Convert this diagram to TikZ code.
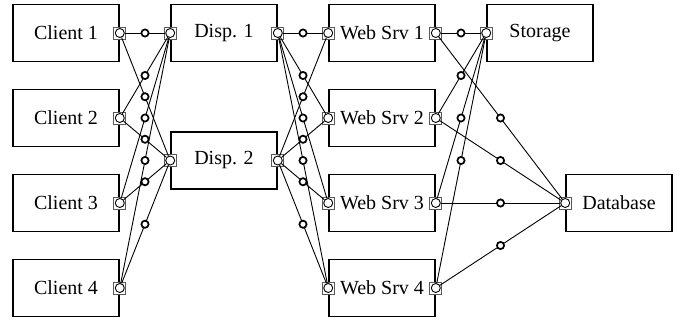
\documentclass[tikz,border=0pt]{standalone}
\usepackage{fontspec}
\setmainfont{Liberation Serif}

\tikzset{
  unit/.style={draw,line width=0.8pt,minimum width=53pt,minimum height=28.5pt,inner sep=0pt},
  port/.style={draw=black!65,line width=0.45pt,fill=white,minimum size=6pt,inner sep=0pt},
  hole/.style={circle,draw,line width=0.45pt,fill=white,minimum size=4.5pt,inner sep=0pt},
  link/.style={line width=0.45pt},
  tap/.style={circle,draw,line width=0.85pt,fill=white,minimum size=3.6pt,inner sep=0pt},
}

\begin{document}
\begin{tikzpicture}[x=79pt,y=42.5pt]
  \useasboundingbox (-33pt,16.5pt) rectangle (314pt,-146pt);
  % clients
  \foreach \i in {1,...,4} {
    \node[unit] (c\i) at (0,1-\i) {Client \i};
    \node[port] at (c\i.east) {};
    \node[hole] (co\i) at (c\i.east) {};
  }
  % dispatchers
  \foreach \i/\y in {1/0,2/-1.5} {
    \node[unit] (d\i) at (1,\y) {Disp. \i};
    \node[port] at (d\i.west) {};
    \node[hole] (di\i) at (d\i.west) {};
    \node[port] at (d\i.east) {};
    \node[hole] (do\i) at (d\i.east) {};
  }
  % web servers
  \foreach \i in {1,...,4} {
    \node[unit] (w\i) at (2,1-\i) {Web Srv \i};
    \node[port] at (w\i.west) {};
    \node[hole] (wi\i) at (w\i.west) {};
    \node[port] at (w\i.east) {};
    \node[hole] (wo\i) at (w\i.east) {};
  }
  % back end
  \node[unit] (s) at (3,0) {Storage};
  \node[port] at (s.west) {};
  \node[hole] (st) at (s.west) {};
  \node[unit] (b) at (3.5,-2) {Database};
  \node[port] at (b.west) {};
  \node[hole] (db) at (b.west) {};

  % links
  \foreach \i in {1,...,4}
    \foreach \j in {1,2}
      \draw[link] (co\i) -- node[tap]{} (di\j);
  \foreach \j in {1,2}
    \foreach \k in {1,...,4}
      \draw[link] (do\j) -- node[tap]{} (wi\k);
  \foreach \k in {1,...,4} {
    \draw[link] (wo\k) -- node[tap]{} (st);
    \draw[link] (wo\k) -- node[tap]{} (db);
  }
\end{tikzpicture}
\end{document}
